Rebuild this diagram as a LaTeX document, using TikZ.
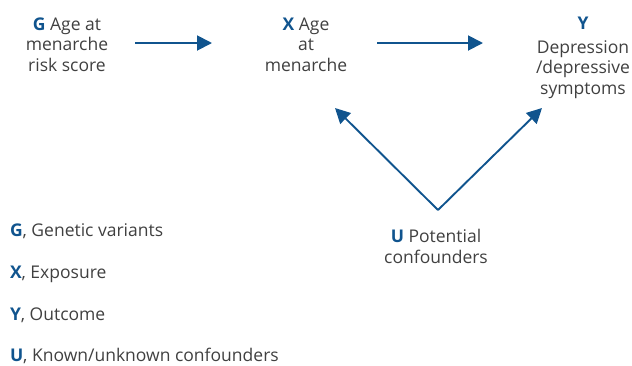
\documentclass[tikz,border=0pt]{standalone}
\usepackage{fontspec}
\setmainfont{Open Sans}
\usepackage{tikz}
\usetikzlibrary{
    positioning,           % Relative positioning
    arrows.meta,           % Modern arrow tips
    calc                   % Coordinate calculations
}
\definecolor{dagblue}{RGB}{16,84,142}
\definecolor{dagtext}{RGB}{64,64,64}
\newcommand{\vname}[1]{\textcolor{dagblue}{\textbf{#1}}}

\begin{document}
\begin{tikzpicture}[x=1pt,y=-1pt,
    every node/.style={inner sep=0pt,outer sep=0pt,text=dagtext,
        font=\fontsize{17.5}{20.5}\selectfont},
    varnode/.style={align=center,anchor=north},
    keyline/.style={anchor=base west},
    link/.style={draw=dagblue,line width=1.9pt,
        -{Triangle[length=15pt,width=15pt]}}]
    \useasboundingbox (0,0) rectangle (632,365);
    % variables of the DAG
    \node[varnode] (G) at (67,17.5) {\vname{G} Age at\\menarche\\risk score};
    \node[varnode] (X) at (306,17.5) {\vname{X} Age\\at\\menarche};
    \node[varnode] (Y) at (583,17.5) {\vname{Y}\\[3pt]Depression\\/depressive\\symptoms};
    \node[varnode] (U) at (436,229.5) {\vname{U} Potential\\confounders};
    % arrow ends
    \coordinate (g-out) at (135,43);
    \coordinate (x-in) at (212,43);
    \coordinate (x-out) at (377,43);
    \coordinate (y-in) at (483,43);
    \coordinate (u-top) at (438,210);
    \coordinate (x-low) at (335,108);
    \coordinate (y-low) at (542,108);
    \draw[link] (g-out) -- (x-in);
    \draw[link] (x-out) -- (y-in);
    \draw[link] (u-top) -- (x-low);
    \draw[link] (u-top) -- (y-low);
    % key
    \node[keyline] (kG) at (10,236) {\vname{G}, Genetic variants};
    \node[keyline] (kX) at (10,278) {\vname{X}, Exposure};
    \node[keyline] (kY) at (10,320) {\vname{Y}, Outcome};
    \node[keyline] (kU) at (10,361) {\vname{U}, Known/unknown confounders};
\end{tikzpicture}
\end{document}
